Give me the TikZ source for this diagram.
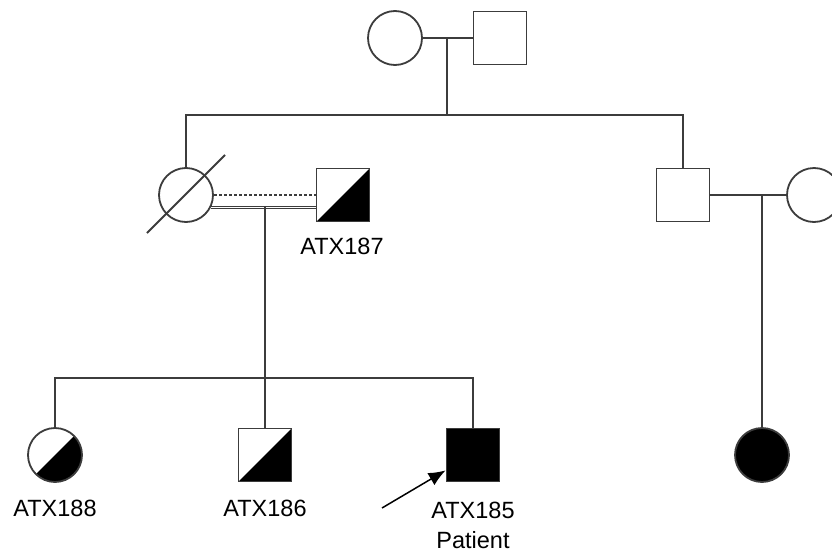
\documentclass[tikz,border=0pt]{standalone}
\usepackage{fontspec}
\setmainfont{Liberation Sans}
\usepackage{tikz}
\usepackage{xcolor}
\usetikzlibrary{positioning,arrows.meta,calc}
\definecolor{pedline}{RGB}{60,60,60}
\tikzset{
    female/.style={
        circle,
        draw=pedline,
        fill=white,
        line width=1.8pt,
        minimum size=54pt,
        inner sep=0pt
    },
    male/.style={
        rectangle,
        draw=pedline,
        fill=white,
        line width=1.8pt,
        minimum size=53pt,
        inner sep=0pt
    },
    affected/.style={fill=black},
    carrier/.style={
        path picture={
            \fill[black] (path picture bounding box.south west) --
                (path picture bounding box.north east) --
                (path picture bounding box.south east) -- cycle;
        }
    },
    lbl/.style={font=\fontsize{23.5}{26}\selectfont, inner sep=0pt},
    rel/.style={draw=pedline, line width=1.8pt},
    arr/.style={-{Latex[length=17pt,width=14pt]}, line width=1.5pt, black}
}
\begin{document}
\begin{tikzpicture}[x=1pt,y=-1pt]
\useasboundingbox (0,0) rectangle (832,554);

% generation I
\node[female] (gf) at (395,38) {};
\node[male] (gm) at (500,38) {};

% generation II
\node[female] (d1) at (186,195) {};
\node[male,carrier] (h1) at (343,195) {};
\node[male] (b1) at (683,195) {};
\node[female] (w1) at (814,195) {};

% generation III
\node[female,carrier] (c188) at (55,455) {};
\node[male,carrier] (c186) at (265,455) {};
\node[male,affected] (c185) at (473,455) {};
\node[female,affected] (fc) at (762,455) {};

% labels
\node[lbl] (l187) at (342,246) {ATX187};
\node[lbl] (l188) at (55,508) {ATX188};
\node[lbl] (l186) at (265,508) {ATX186};
\node[lbl] (l185) at (473,510) {ATX185};
\node[lbl] (pat) at (473,540) {Patient};

\coordinate (m1) at (447,38);
\coordinate (s1) at (447,115);
\coordinate (m2) at (265,207);
\coordinate (s2) at (265,378);
\coordinate (m3) at (762,195);
\coordinate (tail) at (382,508);

\draw[rel] (gf) -- (gm);
\draw[rel] (m1) -- (s1);
\draw[rel] (d1.north) |- (b1.north |- s1) -- (b1.north);

% deceased
\draw[rel] ($(d1)+(-39,38)$) -- ($(d1)+(39,-40)$);

% consanguineous couple
\draw[rel, dash pattern=on 3pt off 2pt] (d1) -- (h1);
\draw[pedline, double=white, double distance=0.9pt, line width=1pt] (d1.-26) -- (h1.west |- d1.-26);
\draw[rel] (m2) -- (s2);
\draw[rel] (c188.north) |- (c185.north |- s2) -- (c185.north);
\draw[rel] (s2) -- (c186.north);

\draw[rel] (b1) -- (w1);
\draw[rel] (m3) -- (fc);

\draw[arr] (tail) -- ([yshift=12pt]c185.south west);
\end{tikzpicture}
\end{document}
